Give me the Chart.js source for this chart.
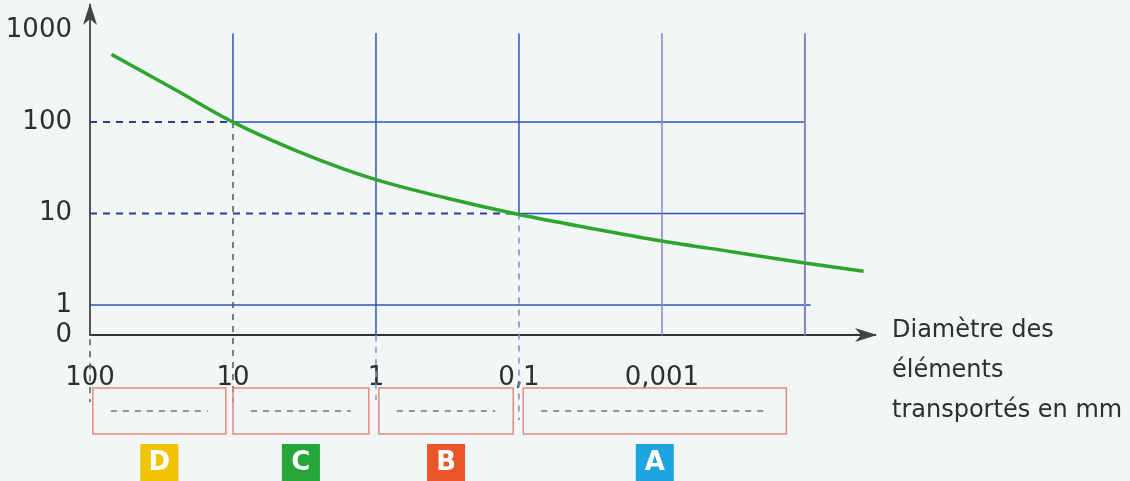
<!DOCTYPE html>
<html>
<head>
<meta charset="utf-8">
<script src="https://cdn.jsdelivr.net/npm/chart.js@4"></script>
<style>
  html, body { margin: 0; padding: 0; background: #f1f6f6; }
  #wrap { width: 1130px; height: 481px; }
</style>
</head>
<body>
<div id="wrap"><canvas id="myChart" width="1130" height="481"></canvas></div>
<script>
// valeurs (unités de grille : une décade par case)
const xTickPos = [0, 1, 2, 3, 4];
const xTickLabels = ['100', '10', '1', '0,1', '0,001'];
const yTickPos = [-0.33, 0, 1, 2, 3];
const yTickLabels = ['0', '1', '10', '100', '1000'];
const curveX = [0.15, 0.6, 1, 1.47, 2, 2.49, 3, 3.5, 4, 4.5, 5, 5.41];
const curveY = [2.74, 2.35, 2.0, 1.67, 1.37, 1.17, 0.99, 0.84, 0.70, 0.58, 0.46, 0.37];
const zoneLetters = ['D', 'C', 'B', 'A'];
const zoneColors = ['#f2c400', '#26a63a', '#e8562a', '#1ea4e0'];

const font = 'DejaVu Sans';

const decor = {
    id: 'decor',
    beforeDatasetsDraw(chart) {
        const c = chart.ctx, x = chart.scales.x, y = chart.scales.y;
        const X = v => x.getPixelForValue(v), Y = v => y.getPixelForValue(v);
        const seg = (x1, y1, x2, y2, col, dash, w) => {
            c.save();
            c.strokeStyle = col;
            c.lineWidth = w || 1.5;
            c.setLineDash(dash || []);
            c.beginPath();
            c.moveTo(x1, y1);
            c.lineTo(x2, y2);
            c.stroke();
            c.restore();
        };
        const blue = '#2f52b8', lav = '#8884cc', dk = '#2c3f8c', gr = '#555';
        // horizontales
        seg(X(0), Y(2), X(1), Y(2), dk, [7, 6], 2);
        seg(X(1), Y(2), X(5), Y(2), blue);
        seg(X(0), Y(1), X(3), Y(1), dk, [7, 6], 2);
        seg(X(3), Y(1), X(5), Y(1), blue);
        seg(X(0), Y(0), X(5.04), Y(0), blue);
        // verticales
        const top = Y(2.97), bot = Y(-0.33);
        seg(X(1), top, X(1), Y(2), blue);
        seg(X(1), Y(2), X(1), 402, gr, [6, 6]);
        seg(X(2), top, X(2), bot, blue);
        seg(X(2), bot, X(2), 400, '#8a92c8', [6, 6]);
        seg(X(3), top, X(3), Y(1), blue);
        seg(X(3), Y(1), X(3), 420, '#7f88c4', [6, 6]);
        seg(X(4), top, X(4), bot, lav);
        seg(X(5), top, X(5), bot, lav, null, 2);
        seg(X(0), bot + 4, X(0), 402, gr, [6, 6]);
    },
    afterDraw(chart) {
        const c = chart.ctx, x = chart.scales.x, a = chart.chartArea;
        const X = v => x.getPixelForValue(v);
        c.save();
        // flèches
        c.fillStyle = '#444';
        c.beginPath();
        c.moveTo(a.left, a.top - 2);
        c.lineTo(a.left - 7, a.top + 20);
        c.lineTo(a.left, a.top + 14);
        c.lineTo(a.left + 7, a.top + 20);
        c.closePath();
        c.fill();
        c.beginPath();
        c.moveTo(a.right + 2, a.bottom);
        c.lineTo(a.right - 20, a.bottom - 7);
        c.lineTo(a.right - 14, a.bottom);
        c.lineTo(a.right - 20, a.bottom + 7);
        c.closePath();
        c.fill();
        // titre de l'axe
        c.fillStyle = '#2e2e2e';
        c.font = '24px "' + font + '"';
        c.textAlign = 'left';
        c.textBaseline = 'alphabetic';
        c.fillText('Diamètre des', 892, 337);
        c.fillText('éléments', 892, 377);
        c.fillText('transportés en mm', 892, 417);
        // cases
        const zones = [[0.02, 0.95], [1.0, 1.95], [2.02, 2.96], [3.03, 4.87]];
        zones.forEach((z, i) => {
            const l = X(z[0]), r = X(z[1]);
            c.strokeStyle = '#e48a7c';
            c.lineWidth = 1.5;
            c.setLineDash([]);
            c.strokeRect(l, 388, r - l, 46);
            c.strokeStyle = '#555';
            c.lineWidth = 1.2;
            c.setLineDash([6, 6]);
            c.beginPath();
            c.moveTo(l + 18, 411);
            c.lineTo(r - 18, 411);
            c.stroke();
            const m = (l + r) / 2;
            c.setLineDash([]);
            c.fillStyle = zoneColors[i];
            c.fillRect(m - 19, 444, 38, 37);
            c.fillStyle = '#fff';
            c.font = 'bold 26px "' + font + '"';
            c.textAlign = 'center';
            c.textBaseline = 'middle';
            c.fillText(zoneLetters[i], m, 463);
        });
        c.restore();
    }
};

const ctx = document.getElementById('myChart');

var chart = new Chart(ctx, {
    type: 'line',
    data: {
        datasets: [{
            label: 'courbe',
            data: curveX.map((v, i) => ({ x: v, y: curveY[i] })),
            borderColor: '#2ea52e',
            borderWidth: 3.5,
            pointRadius: 0,
            cubicInterpolationMode: 'monotone',
            fill: false
        }]
    },
    options: {
        responsive: false,
        animation: false,
        layout: { padding: { top: 5, right: 255, left: 0, bottom: 0 } },
        plugins: { legend: { display: false }, tooltip: { enabled: false } },
        scales: {
            x: {
                type: 'linear',
                min: 0,
                max: 5.49,
                afterFit: s => { s.height = 146; s.paddingLeft = 0; s.paddingRight = 0; },
                afterBuildTicks: s => { s.ticks = xTickPos.map(v => ({ value: v })); },
                grid: { display: false },
                border: { color: '#333', width: 2 },
                ticks: {
                    autoSkip: false,
                    maxRotation: 0,
                    padding: 20,
                    color: '#2e2e2e',
                    font: { family: font, size: 26 },
                    callback: (v, i) => xTickLabels[i]
                }
            },
            y: {
                type: 'linear',
                min: -0.328,
                max: 3.28,
                afterFit: s => { s.width = 90; s.paddingTop = 0; s.paddingBottom = 0; },
                afterBuildTicks: s => { s.ticks = yTickPos.map(v => ({ value: v })); },
                grid: { display: false },
                border: { color: '#555', width: 2 },
                ticks: {
                    autoSkip: false,
                    padding: 10,
                    color: '#2e2e2e',
                    font: { family: font, size: 26 },
                    callback: (v, i) => yTickLabels[i]
                }
            }
        }
    },
    plugins: [decor]
});
</script>
</body>
</html>
